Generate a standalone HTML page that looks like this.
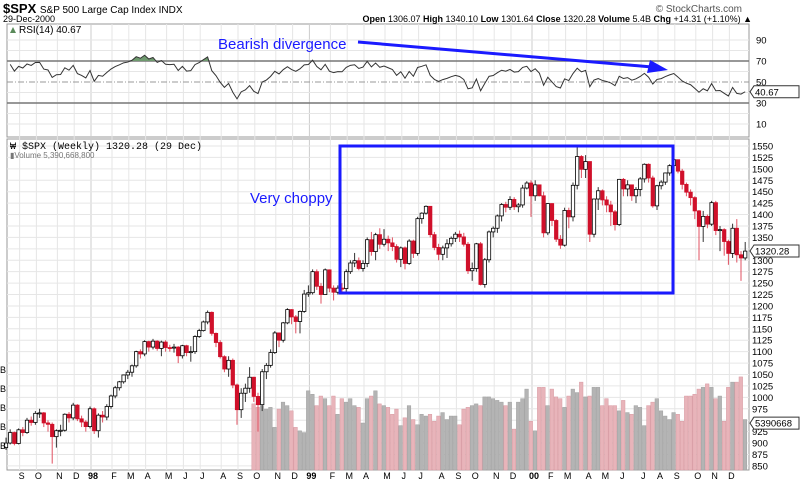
<!DOCTYPE html>
<html><head><meta charset="utf-8">
<style>
html,body{margin:0;padding:0;background:#fff;}
svg{display:block;font-family:"Liberation Sans",sans-serif;}
</style></head>
<body>
<svg id="c" width="800" height="485" viewBox="0 0 800 485">
<rect x="0" y="0" width="800" height="485" fill="#fff"/>
<g id="grid"></g>
<g id="vol"></g>
<g id="rsi"></g>
<g id="candles"></g>
<g id="axes"></g>
<text x="3" y="13" font-size="13" font-weight="bold" fill="#000">$SPX <tspan font-size="10" font-weight="normal">S&amp;P 500 Large Cap Index INDX</tspan></text>
<text x="3" y="22" font-size="9" fill="#000">29-Dec-2000</text>
<text x="742" y="12" font-size="10" fill="#555" text-anchor="end">© StockCharts.com</text>
<text x="752" y="22" font-size="9" fill="#000" text-anchor="end"><tspan font-weight="bold">Open</tspan> 1306.07 <tspan font-weight="bold">High</tspan> 1340.10 <tspan font-weight="bold">Low</tspan> 1301.64 <tspan font-weight="bold">Close</tspan> 1320.28 <tspan font-weight="bold">Volume</tspan> 5.4B <tspan font-weight="bold">Chg</tspan> +14.31 (+1.10%) ▲</text>
<text x="19" y="33" font-size="10" fill="#000">RSI(14) 40.67</text>
<path d="M10,33 l3,-6 l3,6 z" fill="#5a8a5a"/>
<text x="10" y="149" font-size="10" font-family="Liberation Mono,monospace" fill="#000">₩ $SPX (Weekly) 1320.28 (29 Dec)</text>
<text x="10" y="158" font-size="8" fill="#777">▮Volume 5,390,668,800</text>
<text x="218" y="49" font-size="15" fill="#1a1aff">Bearish divergence</text>
<line x1="358" y1="42" x2="652" y2="67" stroke="#1a1aff" stroke-width="3"/>
<path d="M668,70 L650,60 L647,73 Z" fill="#1a1aff"/>
<text x="250" y="203" font-size="15" fill="#1a1aff">Very choppy</text>
<rect x="340" y="146" width="333" height="147" fill="none" stroke="#1a1aff" stroke-width="3"/>
</svg>
<script>
const closes=[900,923,899,929,923,950,945,965,966,944,941,914,927,928,963,955,983,953,946,936,
975,927,961,957,980,1003,1021,1034,1049,1055,1069,1100,1095,1122,1110,1123,1107,1121,1109,1108,1110,1091,1113,1098,1100,1133,1146,1165,1186,1140,1120,1089,1062,1081,1027,973,1009,1020,1044,1002,984,1056,1070,1098,1141,1125,1163,1192,1176,1166,1188,1226,
1229,1275,1243,1225,1279,1239,1230,1239,1238,1275,1294,1299,1282,1293,1345,1319,1356,1335,1346,1338,1330,1302,1327,1293,1342,1315,1391,1403,1418,1356,1328,1313,1327,1336,1348,1357,1351,1335,1277,1282,1336,1247,1301,1362,1370,1397,1422,1416,1433,1417,1421,1458,1469,
1441,1465,1441,1360,1424,1387,1346,1333,1409,1395,1464,1527,1499,1516,1357,1434,1452,1432,1421,1406,1378,1477,1456,1465,1441,1455,1478,1510,1480,1419,1463,1471,1491,1507,1520,1495,1466,1449,1437,1408,1374,1396,1379,1426,1365,1367,1341,1315,1370,1312,1305,1320];
const highs=[912,930,925,932,935,955,958,970,975,968,950,945,930,940,965,968,988,985,960,950,
980,978,965,970,985,1006,1025,1036,1050,1060,1072,1102,1105,1125,1124,1128,1125,1124,1125,1115,1117,1112,1115,1115,1112,1136,1150,1168,1190,1188,1142,1125,1092,1090,1085,1030,1020,1030,1066,1045,1010,1062,1075,1105,1145,1142,1165,1195,1193,1180,1190,1235,
1245,1280,1280,1250,1282,1280,1245,1245,1250,1280,1300,1316,1306,1300,1350,1362,1360,1370,1368,1354,1350,1335,1330,1330,1346,1345,1395,1405,1420,1418,1362,1336,1332,1346,1352,1362,1365,1360,1340,1295,1338,1340,1305,1365,1374,1400,1425,1428,1440,1438,1425,1465,1473,
1475,1475,1465,1450,1425,1425,1390,1355,1415,1415,1470,1552,1530,1530,1515,1435,1460,1455,1440,1430,1410,1478,1480,1475,1465,1460,1482,1512,1512,1485,1465,1475,1492,1510,1530,1520,1500,1470,1455,1440,1410,1408,1400,1430,1430,1375,1370,1345,1380,1390,1320,1340];
const lows=[885,897,895,897,915,920,938,940,955,935,925,855,890,915,925,945,950,948,935,925,
932,920,912,945,950,975,998,1015,1030,1040,1045,1065,1085,1090,1100,1105,1102,1090,1100,1100,1098,1075,1085,1090,1078,1095,1130,1144,1160,1135,1110,1085,1055,1045,1020,940,955,990,1010,990,925,970,1040,1065,1095,1110,1120,1160,1160,1140,1140,1185,
1220,1225,1235,1205,1225,1230,1212,1225,1225,1230,1270,1285,1278,1275,1285,1310,1300,1325,1330,1320,1320,1295,1285,1280,1290,1305,1310,1380,1400,1350,1322,1300,1300,1305,1330,1340,1340,1330,1270,1255,1275,1245,1240,1295,1350,1360,1385,1405,1410,1410,1405,1415,1455,
1395,1430,1440,1350,1355,1375,1340,1325,1330,1370,1385,1455,1480,1480,1340,1350,1410,1420,1405,1375,1365,1375,1440,1440,1430,1425,1440,1470,1470,1415,1410,1455,1465,1485,1490,1490,1455,1440,1420,1390,1300,1340,1370,1375,1355,1320,1310,1290,1305,1295,1255,1300];
const firstOpen=890;
const volStart=59;
const volumes=[7.6,7.2,7.4,7.0,7.2,4.9,7.0,7.8,7.4,6.8,4.9,4.5,4.3,
9.1,8.7,7.4,8.5,
8.2,7.4,8.5,6.4,8.2,7.8,8.2,7.4,7.2,
5.4,8.2,8.5,9.1,7.6,7.4,
7.2,6.4,7.0,
5.1,6.0,7.4,5.8,5.2,
6.4,6.2,6.4,5.6,6.2,6.6,
5.8,6.2,6.2,5.2,
7.0,7.2,7.4,7.6,7.4,8.4,
8.4,8.2,8.0,7.8,7.4,7.8,4.7,
7.8,8.2,9.3,5.6,4.5,9.5,9.5,
7.4,9.3,8.4,8.2,7.2,8.5,9.3,8.9,
10.1,8.4,8.5,9.5,9.5,7.4,
8.2,7.4,7.4,6.8,
8.0,6.6,6.4,7.4,7.2,5.1,
7.4,7.8,8.2,6.8,6.2,5.8,
6.6,6.4,5.6,
8.5,8.5,8.7,9.3,9.5,
9.9,9.5,8.2,8.5,
5.6,9.5,10.1,10.1,10.7,5.8];
const priceTicks=[850,875,900,925,950,975,1000,1025,1050,1075,1100,1125,1150,1175,1200,1225,1250,1275,1300,1325,1350,1375,1400,1425,1450,1475,1500,1525,1550];
const rsiTicks=[90,70,50,30,10];
const monthLabels=["S","O","N","D","98","F","M","A","M","J","J","A","S","O","N","D","99","F","M","A","M","J","J","A","S","O","N","D","00","F","M","A","M","J","J","A","S","O","N","D"];
const monthWeek=[3,7,12,16,20,25,29,33,38,42,46,51,55,59,64,68,72,77,81,85,90,94,98,103,107,111,116,120,125,129,133,138,142,146,151,155,159,164,168,172];

const NS="http://www.w3.org/2000/svg";
function mk(tag,attrs,parent){const e=document.createElementNS(NS,tag);for(const k in attrs)e.setAttribute(k,attrs[k]);parent.appendChild(e);return e;}
const L=7,R=749,PT=139,PB=470,RT=24,RB=137;
const xW=i=>6+i*4.2;
const yP=v=>146+(1550-v)*0.457;
const yR=v=>82-(v-50)*1.05;
const yV=v=>470-v*8.7;
const grid=document.getElementById('grid'),axes=document.getElementById('axes');

mk('rect',{x:L,y:RT,width:R-L,height:RB-RT,fill:'none',stroke:'#999','stroke-width':1},grid);
mk('rect',{x:L,y:PT,width:R-L,height:PB-PT,fill:'none',stroke:'#999','stroke-width':1},grid);
monthWeek.forEach((w,k)=>{
  const x=xW(w)+1;
  const major=monthLabels[k].length>1;
  let g=mk('line',{x1:x,y1:RT,x2:x,y2:PB,stroke:major?'#ccc':'#e6e6e6','stroke-width':1},grid);
  
  
  let t=mk('text',{x:x+2,y:479,'font-size':9,'text-anchor':'middle',fill:'#000','font-weight':major?'bold':'normal'},axes);
  t.textContent=monthLabels[k];
  
  
});
priceTicks.forEach(v=>{
  const y=yP(v);
  let g=mk('line',{x1:L,y1:y,x2:R,y2:y,stroke:'#e6e6e6','stroke-width':1},grid);
  
  
  let t=mk('text',{x:752,y:y+3.5,'font-size':9.5,fill:'#000'},axes);
  t.textContent=v;
  
  
});
[10,20,40,60,80,90].forEach(v=>{
  let g=mk('line',{x1:L,y1:yR(v),x2:R,y2:yR(v),stroke:'#e6e6e6','stroke-width':1},grid);
  
  
});
rsiTicks.forEach(v=>{
  let t=mk('text',{x:756,y:yR(v)+3.5,'font-size':9.5,fill:'#000'},axes);
  t.textContent=v;
  
  
});
[373,392,411,430,449].forEach(y=>{
  let t=mk('text',{x:0,y:y,'font-size':9,fill:'#000'},axes);
  t.textContent='B';
  
  
});

const vg=document.getElementById('vol');
volumes.forEach((v,k)=>{
  const i=volStart+k;
  const o=i?closes[i-1]:firstOpen;
  const down=closes[i]<o;
  let r=mk('rect',{x:xW(i)-2,y:yV(v),width:3.6,height:470-yV(v),fill:down?'#e8b4ba':'#b4b4b4',stroke:down?'#d89aa2':'#a0a0a0','stroke-width':0.5},vg);
  
  
});

// RSI (Wilder 14), seeded with averages over first 14 changes
let ag=0,al=0;
for(let i=1;i<=14;i++){const d=closes[i]-closes[i-1];if(d>0)ag+=d;else al-=d;}
ag/=14;al/=14;
const rsiVals=[];
for(let i=1;i<closes.length;i++){
  const d=closes[i]-closes[i-1];
  const g=d>0?d:0,l=d<0?-d:0;
  ag=(ag*13+g)/14; al=(al*13+l)/14;
  rsiVals.push([i, al===0?100:100-100/(1+ag/al)]);
}
const rg=document.getElementById('rsi');
[[70,'#777','none'],[30,'#777','none'],[50,'#999','6,2,1,2']].forEach(([v,c,da])=>{
  let l=mk('line',{x1:L,y1:yR(v),x2:R,y2:yR(v),stroke:c,'stroke-width':v===50?1:1.5,'stroke-dasharray':da},rg);
  
  
});
const pts=rsiVals.map(([i,v])=>xW(i)+','+yR(v)).join(' ');
const defs=mk('defs',{},rg);
const cp=mk('clipPath',{id:'above70'},defs);
mk('rect',{x:L,y:RT,width:R-L,height:yR(70)-RT},cp);
let fill=mk('polygon',{points:xW(rsiVals[0][0])+','+yR(70)+' '+pts+' '+xW(rsiVals[rsiVals.length-1][0])+','+yR(70),fill:'#6f9a6f','clip-path':'url(#above70)'},rg);


let line=mk('polyline',{points:pts,fill:'none',stroke:'#333','stroke-width':1},rg);



const cg=document.getElementById('candles');
closes.forEach((c,i)=>{
  const o=i?closes[i-1]:firstOpen;
  const down=c<o;
  const col=down?'#d0102a':'#000';
  const x=xW(i);
  let w=mk('line',{x1:x,y1:yP(highs[i]),x2:x,y2:yP(lows[i]),stroke:down?'#e05060':'#333','stroke-width':1},cg);
  
  
  const top=yP(Math.max(o,c)),bot=yP(Math.min(o,c));
  let b=mk('rect',{x:x-1.7,y:top,width:3.4,height:Math.max(1,bot-top),fill:down?'#d0102a':'#fff',stroke:col,'stroke-width':0.8},cg);
  
  
});

function tag(y,txt,name){
  const g=mk('g',{},axes);
  
  
  mk('path',{d:`M750,${y} l4,-6 h45 v12 h-45 z`,fill:'#fff',stroke:'#333','stroke-width':1},g);
  const t=mk('text',{x:755,y:y+3.5,'font-size':9.5,fill:'#000'},g);
  t.textContent=txt;
}
tag(yR(40.67),'40.67','rsi-value-tag');
tag(yP(1320.28),'1320.28','price-value-tag');
tag(yV(5.39),'5390668','volume-value-tag');
</script>
</body></html>
